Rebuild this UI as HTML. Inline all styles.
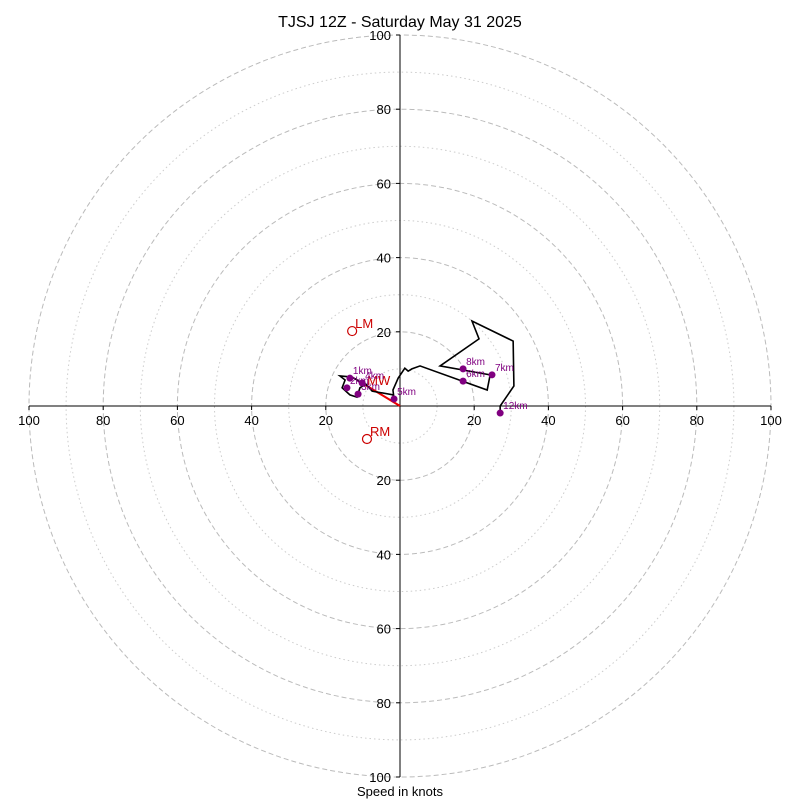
<!DOCTYPE html>
<html><head><meta charset="utf-8"><style>
body{margin:0;background:#fff}
svg{font-family:"Liberation Sans",sans-serif}
</style></head><body>
<svg id="c" width="800" height="800">
<text x="400" y="27" text-anchor="middle" font-size="16">TJSJ 12Z - Saturday May 31 2025</text>
<text x="400" y="796" text-anchor="middle" font-size="13">Speed in knots</text>
<g id="g"></g>
</svg>
<script>
const ringsMajor=[20,40,60,80,100];
const ringsMinor=[10,30,50,70,90];
const tickLabels=["20","40","60","80","100"];
const traceU=[-10.2,-12.9,-16.2,-14.8,-15.6,-13.5,-11.6,-10.8,-9.2,-7.5,-1.9,-1.6,-1.9,-0.5,1.3,2.2,3.2,5.4,23.5,24.3,10.8,21.3,19.4,30.5,30.7,27.0,27.0];
const traceV=[6.2,7.8,8.1,7.0,4.9,3.0,2.4,4.9,5.9,4.0,3.0,1.9,4.3,7.5,10.2,9.4,10.0,10.8,4.3,8.4,10.8,18.1,22.9,17.5,5.4,0,-1.9];
const dotLabels=["1km","2km","3km","4km","5km","6km","7km","8km","12km"];
const dotU=[-13.5,-14.3,-11.3,-10.2,-1.6,17.0,24.8,17.0,27.0];
const dotV=[7.5,4.9,3.2,6.2,1.9,6.7,8.4,10.0,-1.9];
const motionLabels=["LM","RM"];
const motionU=[-12.9,-8.9];
const motionV=[20.2,-8.9];
const meanWind=[-10.2,6.2];
const cx=400,cy=406,k=3.71;
const X=u=>cx+u*k, Y=v=>cy-v*k;
const g=document.getElementById('g');
const NS='http://www.w3.org/2000/svg';
function mk(t,a){const e=document.createElementNS(NS,t);for(const n in a)e.setAttribute(n,a[n]);g.appendChild(e);return e;}
ringsMinor.forEach(r=>{const e=mk('circle',{cx:cx,cy:cy,r:r*k,fill:'none',stroke:'#ccc','stroke-dasharray':'1.5,3'});

});
ringsMajor.forEach(r=>{const e=mk('circle',{cx:cx,cy:cy,r:r*k,fill:'none',stroke:'#bbb','stroke-dasharray':'5,3'});

});
let a=mk('line',{x1:X(-100),y1:cy,x2:X(100),y2:cy,stroke:'#000'});


a=mk('line',{x1:cx,y1:Y(100),x2:cx,y2:Y(-100),stroke:'#000'});


ringsMajor.forEach((r,i)=>{
 [-1,1].forEach(s=>{
  mk('line',{x1:X(s*r),y1:cy,x2:X(s*r),y2:cy+4,stroke:'#000'});
  const t=mk('text',{x:X(s*r),y:cy+19,'text-anchor':'middle','font-size':13});t.textContent=tickLabels[i];
  
  
  mk('line',{x1:cx-4,y1:Y(s*r),x2:cx,y2:Y(s*r),stroke:'#000'});
  const t2=mk('text',{x:cx-9,y:Y(s*r)+5,'text-anchor':'end','font-size':13});t2.textContent=tickLabels[i];
  
  
 });
});
const mw=mk('line',{x1:cx,y1:cy,x2:X(meanWind[0]),y2:Y(meanWind[1]),stroke:'#e00','stroke-width':2});


const tr=mk('polyline',{points:traceU.map((u,i)=>X(u)+','+Y(traceV[i])).join(' '),fill:'none',stroke:'#000','stroke-width':1.6});


const mwt=mk('text',{x:X(meanWind[0])+5,y:Y(meanWind[1])+2,'font-size':13,fill:'#c00'});mwt.textContent='MW';


dotU.forEach((u,i)=>{
 const d=mk('circle',{cx:X(u),cy:Y(dotV[i]),r:3.5,fill:'#800080'});
 
 
 const t=mk('text',{x:X(u)+3,y:Y(dotV[i])-4,'font-size':10,fill:'#800080'});t.textContent=dotLabels[i];
 
 
});
motionU.forEach((u,i)=>{
 const c=mk('circle',{cx:X(u),cy:Y(motionV[i]),r:4.5,fill:'none',stroke:'#c00','stroke-width':1.2});
 
 
 const t=mk('text',{x:X(u)+3,y:Y(motionV[i])-3,'font-size':13,fill:'#c00'});t.textContent=motionLabels[i];
 
 
});
</script>
</body></html>
